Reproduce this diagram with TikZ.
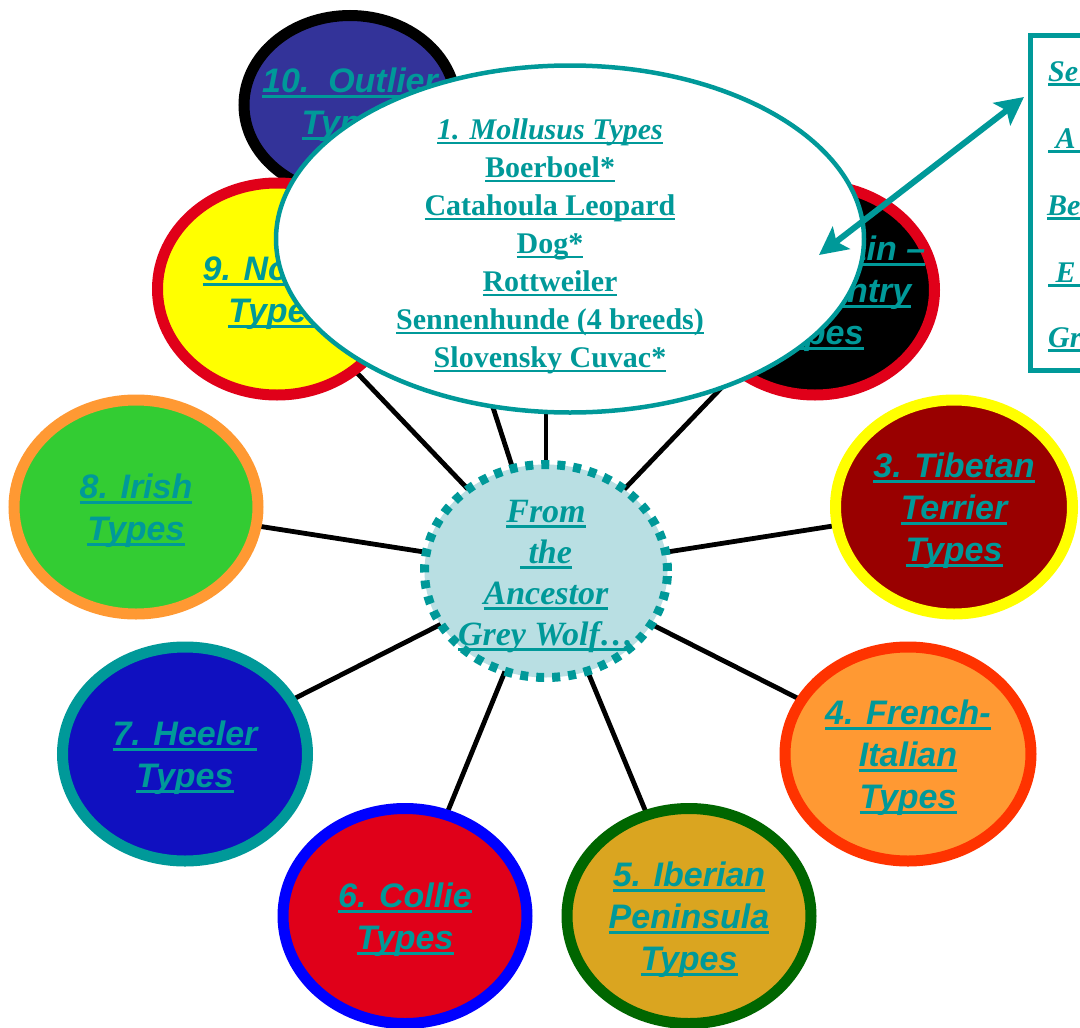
\documentclass[tikz,border=0pt]{standalone}
\usepackage{fontspec}
\setmainfont{Liberation Serif}
\newfontfamily\arialf{Liberation Sans}
\usetikzlibrary{shapes.geometric,arrows.meta,calc}
\pgfdeclarelayer{bg}
\pgfsetlayers{bg,main}
\definecolor{tealc}{HTML}{009999}
\definecolor{outfill}{HTML}{333399}
\definecolor{redb}{HTML}{E00019}
\definecolor{yel}{HTML}{FFFF00}
\definecolor{darkred}{HTML}{990000}
\definecolor{orangef}{HTML}{FF9933}
\definecolor{orangeb}{HTML}{FF3300}
\definecolor{goldf}{HTML}{DAA520}
\definecolor{greenb}{HTML}{006600}
\definecolor{blueb}{HTML}{0000FF}
\definecolor{heelf}{HTML}{1010C0}
\definecolor{irishf}{HTML}{33CC33}
\definecolor{centf}{HTML}{B9DFE3}
\newcommand\myul[1]{\setbox0\hbox{#1}\leavevmode\rlap{\rule[-5pt]{\wd0}{2.6pt}}\box0}
\newcommand\edgeul[1]{\leavevmode\rlap{\rule[-5pt]{40pt}{2.6pt}}#1}
\tikzset{
  grp/.style={ellipse, line width=11pt, inner sep=0pt},
  grptxt/.style={align=center, text=tealc, inner sep=0pt, yshift=-4pt,
    font={\arialf\bfseries\itshape\fontsize{34}{42}\selectfont}},
  conn/.style={line width=4.8pt, draw=black},
  boxtxt/.style={anchor=base west, inner sep=0pt, text=tealc,
    font={\bfseries\itshape\fontsize{30}{36}\selectfont}},
}
\begin{document}
\begin{tikzpicture}[x=1pt,y=-1pt]
\clip (0,0) rectangle (1080,1028);
\begin{pgfonlayer}{bg}
\fill[white] (0,0) rectangle (1080,1028);
\end{pgfonlayer}
% outer group nodes
\node[grp, draw=black, fill=outfill, minimum width=212pt, minimum height=179pt,
  label={[grptxt, yshift=4pt]center:\myul{10.\ \ Outlier}\\\myul{Types}}] (o10) at (350,105) {};
\node[grp, draw=redb, fill=yel, minimum width=239pt, minimum height=212pt,
  label={[grptxt]center:\myul{9. Nordic}\\\myul{Types}}] (o9) at (277,289) {};
\node[grp, draw=redb, fill=black, minimum width=239pt, minimum height=210pt,
  label={[grptxt]center:\myul{2. Mountain –}\\\myul{Hill Country}\\\myul{Types}}] (o2) at (815,290) {};
\node[grp, draw=yel, fill=darkred, minimum width=237pt, minimum height=214pt,
  label={[grptxt]center:\myul{3. Tibetan}\\\myul{Terrier}\\\myul{Types}}] (o3) at (954,507) {};
\node[grp, draw=orangeb, fill=orangef, minimum width=246pt, minimum height=214pt,
  label={[grptxt]center:\myul{4. French-}\\\myul{Italian}\\\myul{Types}}] (o4) at (908,754) {};
\node[grp, draw=greenb, fill=goldf, minimum width=244pt, minimum height=215pt,
  label={[grptxt]center:\myul{5. Iberian}\\\myul{Peninsula}\\\myul{Types}}] (o5) at (689,916) {};
\node[grp, draw=blueb, fill=redb, minimum width=244pt, minimum height=215pt,
  label={[grptxt]center:\myul{6. Collie}\\\myul{Types}}] (o6) at (405,916) {};
\node[grp, draw=tealc, fill=heelf, minimum width=245pt, minimum height=214pt,
  label={[grptxt]center:\myul{7. Heeler}\\\myul{Types}}] (o7) at (185,754) {};
\node[grp, draw=orangef, fill=irishf, minimum width=244pt, minimum height=214pt,
  label={[grptxt]center:\myul{8. Irish}\\\myul{Types}}] (o8) at (136,507) {};
% centre node
\node[ellipse, draw=tealc, line width=9pt, dash pattern=on 8pt off 8pt, fill=centf,
  minimum width=243pt, minimum height=213pt, inner sep=0pt] (cn) at (546,571) {};
\node[align=center, text=tealc, inner sep=0pt,
  font={\bfseries\itshape\fontsize{34}{41}\selectfont}] (cnt) at (546,577)
  {\myul{From}\\\myul{\ the}\\\myul{Ancestor}\\\myul{Grey Wolf…}};
% connectors behind
\begin{pgfonlayer}{bg}
\foreach \n in {o2,o3,o4,o5,o6,o7,o8,o9}
  \draw[conn] (cn.center) -- (\n.center);
\draw[conn] (cn.center) -- ($(o10.center)+(45,0)$);
\end{pgfonlayer}
% big ellipse
\node[ellipse, draw=tealc, line width=4.5pt, fill=white, minimum width=588pt, minimum height=347pt, inner sep=0pt] (m1) at (570,239) {};
\begin{pgfonlayer}{bg}
\draw[conn] (cn.center) -- (cn.center |- m1.center);
\end{pgfonlayer}
\node[align=center, text=tealc, inner sep=0pt, font={\bfseries\fontsize{30}{38}\selectfont}] (m1t) at (550,246)
  {\myul{\itshape 1. Mollusus Types}\\\myul{Boerboel*}\\\myul{Catahoula Leopard}\\\myul{Dog*}\\\myul{Rottweiler}\\\myul{Sennenhunde (4 breeds)}\\\myul{Slovensky Cuvac*}};
% right box
\node[draw=tealc, line width=5pt, minimum width=200pt, minimum height=335pt, anchor=north west, inner sep=0pt] (box) at (1027.5,32.5) {};
\node[boxtxt] (bt1) at (1048,81) {\edgeul{Se}};
\node[boxtxt] (bt2) at (1048,148) {\edgeul{\ A}};
\node[boxtxt] (bt3) at (1047,215) {\edgeul{Be}};
\node[boxtxt] (bt4) at (1048,282) {\edgeul{\ E}};
\node[boxtxt] (bt5) at (1048,347) {\edgeul{Gr}};
% arrow
\coordinate (ar1) at (819,255);
\coordinate (ar2) at (1024,97);
\draw[tealc, line width=6pt, {Stealth[length=28pt,width=28pt,inset=6pt]}-{Stealth[length=28pt,width=28pt,inset=6pt]}] (ar1) -- (ar2);
\end{tikzpicture}
\end{document}
